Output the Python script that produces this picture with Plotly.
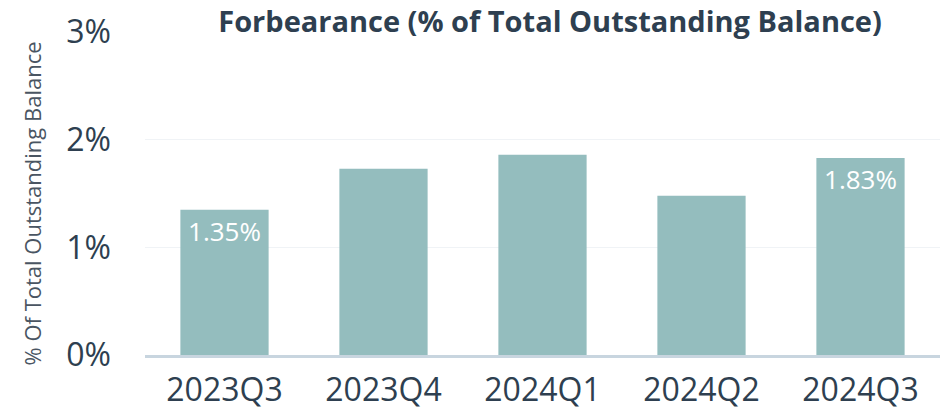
import plotly.graph_objects as go

quarters = ["2023Q3", "2023Q4", "2024Q1", "2024Q2", "2024Q3"]
values = [1.35, 1.73, 1.86, 1.48, 1.83]
labels = ["1.35%", "", "", "", "1.83%"]
y_ticks = [0, 1, 2, 3]
y_tick_text = ["0%", "1%", "2%", "3%"]

fig = go.Figure(go.Bar(
    x=quarters, y=values, text=labels, textposition="inside",
    insidetextanchor="end", textangle=0,
    textfont=dict(color="white", size=26, family="Open Sans"),
    marker=dict(color="#94BDBE", line=dict(width=0)),
    cliponaxis=False,
))

fig.update_layout(
    width=949, height=420,
    margin=dict(l=145, r=9, t=32, b=65, autoexpand=False),
    paper_bgcolor="white", plot_bgcolor="white",
    bargap=0.445,
    showlegend=False,
    font=dict(family="Open Sans", color="#2E3F50"),
    title=dict(text="<b>Forbearance (% of Total Outstanding Balance)</b>",
               x=0.5796, xanchor="center", y=0.948, yanchor="middle",
               font=dict(size=29, color="#2E3F50", family="Open Sans")),
    xaxis=dict(showgrid=False, showline=True, linecolor="#C8D5DF", linewidth=3,
               tickfont=dict(size=32, color="#2E3F50"), ticks="",
               ticklabelstandoff=5, automargin=False),
    yaxis=dict(range=[0, 3], tickvals=y_ticks, ticktext=y_tick_text,
               showgrid=True, gridcolor="#F0F3F6", gridwidth=1,
               zeroline=False, showline=False, ticks="",
               tickfont=dict(size=32, color="#2E3F50"),
               ticklabelstandoff=33, automargin=False),
    annotations=[dict(text="% Of Total Outstanding Balance", textangle=-90,
                      xref="paper", yref="paper", x=0, y=0.5,
                      xanchor="center", yanchor="middle",
                      xshift=-114, yshift=-10, showarrow=False,
                      font=dict(size=22, color="#4A5562", family="Open Sans"))],
)

fig.write_html("out.html", config={"displayModeBar": False},
               post_script="document.body.style.margin='0';")
